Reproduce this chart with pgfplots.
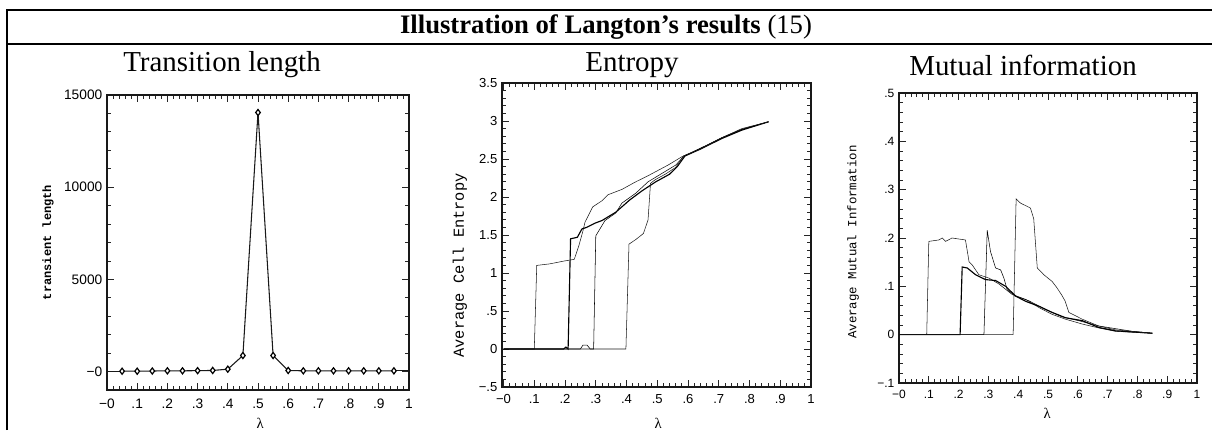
\documentclass[border=0pt]{standalone}
\usepackage{fontspec}
\setmainfont{Liberation Serif}
\newfontfamily\tickfont{Liberation Sans}
\newfontfamily\labfont{Liberation Mono}
\usepackage{pgfplots}
\pgfplotsset{compat=1.18}

\pgfplotsset{
  scanplot/.style={
    scale only axis, anchor=south west,
    tick align=inside, major tick length=5pt, minor tick length=2.8pt,
    minor x tick num=4, minor y tick num=4,
    axis line style={line width=0.8pt, black!90},
    every tick/.style={line width=0.6pt, black!85},
    xtick pos=both, ytick pos=both,
    xticklabel pos=lower, yticklabel pos=left,
    scaled ticks=false,
    xlabel={λ},
    cycle list={{black!90, line width=0.85pt, mark=none}},
    clip=false,
  }
}

\begin{document}
\begin{tikzpicture}
\useasboundingbox (0,0) rectangle (909pt,322.5pt);
% table frame
\draw[line width=1.1pt] (5.25pt,0pt) -- (5.25pt,315pt) -- (909pt,315pt);
\draw[line width=1.1pt] (5.25pt,289.5pt) -- (909pt,289.5pt);
\node[font=\fontsize{20}{22}\selectfont] at (454.5pt,302.25pt) {\textbf{Illustration of Langton’s results} (15)};
\node[font=\fontsize{21.7}{24}\selectfont] at (166.5pt,273.75pt) {Transition length};
\node[font=\fontsize{21.7}{24}\selectfont] at (474pt,273.75pt) {Entropy};
\node[font=\fontsize{21.7}{24}\selectfont] at (767.25pt,273.75pt) {Mutual information};

% ---------- Plot 1 ----------
\begin{axis}[scanplot,
  at={(80.25pt,30pt)}, width=226.5pt, height=221.25pt,
  xmin=0, xmax=1, ymin=-1000, ymax=15000,
  xtick={0,0.1,0.2,0.3,0.4,0.5,0.6,0.7,0.8,0.9,1},
  xticklabels={−0,.1,.2,.3,.4,.5,.6,.7,.8,.9,1},
  ytick={0,5000,10000,15000},
  yticklabels={−0,5000,10000,15000},
  ticklabel style={font=\tickfont\fontsize{10.3}{12}\selectfont},
  xticklabel style={yshift=-3pt},
  ylabel={transient length},
  ylabel style={font=\labfont\bfseries\fontsize{9}{10}\selectfont, at={(axis description cs:-0.195,0.5)}, anchor=center},
  xlabel style={font=\fontsize{11}{12}\selectfont, at={(axis description cs:0.507,-0.112)}, anchor=center},
]
\addplot[black!90, line width=0.8pt, mark=diamond*, mark size=2.3pt, mark options={draw=black, fill=white, line width=0.9pt}] coordinates {
(0.05,20) (0.10,20) (0.15,30) (0.20,40) (0.25,40) (0.30,50) (0.35,60) (0.40,130)
(0.45,870) (0.50,14050) (0.55,870) (0.60,60) (0.65,40) (0.70,40) (0.75,40)
(0.80,40) (0.85,40) (0.90,40) (0.95,40)
};
\addplot[black!90, line width=1pt] coordinates {(0,20) (0.05,20)};
\addplot[black!90, line width=1pt] coordinates {(0.95,40) (1,40)};
\end{axis}

% ---------- Plot 2 ----------
\begin{axis}[scanplot,
  at={(376.5pt,32.25pt)}, width=231.75pt, height=228pt,
  xmin=-0.005, xmax=1, ymin=-0.5, ymax=3.5,
  xtick={0,0.1,0.2,0.3,0.4,0.5,0.6,0.7,0.8,0.9,1},
  xticklabels={−0,.1,.2,.3,.4,.5,.6,.7,.8,.9,1},
  ytick={-0.5,0,0.5,1,1.5,2,2.5,3,3.5},
  yticklabels={−.5,0,.5,1,1.5,2,2.5,3,3.5},
  ticklabel style={font=\tickfont\fontsize{9.8}{11}\selectfont},
  xticklabel style={yshift=-2pt},
  ylabel={Average Cell Entropy},
  ylabel style={font=\labfont\fontsize{11.5}{13}\selectfont, at={(axis description cs:-0.136,0.40)}, anchor=center},
  xlabel style={font=\fontsize{11}{12}\selectfont, at={(axis description cs:0.505,-0.118)}, anchor=center},
]
\addplot coordinates {(0,0) (0.1,0) (0.108,1.1) (0.15,1.12) (0.2,1.16) (0.23,1.18) (0.245,1.36) (0.258,1.55) (0.265,1.67) (0.29,1.87) (0.32,1.95) (0.34,2.03) (0.385,2.1) (0.43,2.2) (0.47,2.28) (0.535,2.42) (0.58,2.53) (0.64,2.64) (0.71,2.78) (0.775,2.89) (0.862,2.99)};
\addplot coordinates {(0,0) (0.195,0) (0.203,0.025) (0.21,0) (0.218,1.45) (0.24,1.47) (0.255,1.58) (0.27,1.6) (0.3,1.66) (0.32,1.69) (0.365,1.8) (0.41,1.96) (0.45,2.08) (0.495,2.2) (0.54,2.3) (0.565,2.4) (0.59,2.54) (0.64,2.63) (0.71,2.77) (0.775,2.88) (0.862,2.99)};
\addplot coordinates {(0,0) (0.25,0) (0.258,0.05) (0.272,0.05) (0.282,0) (0.293,0) (0.3,1.49) (0.33,1.69) (0.365,1.79) (0.385,1.92) (0.43,2.05) (0.47,2.2) (0.515,2.31) (0.56,2.42) (0.585,2.53) (0.64,2.64) (0.71,2.78) (0.775,2.89) (0.862,2.99)};
\addplot coordinates {(0,0) (0.398,0) (0.408,1.38) (0.43,1.44) (0.455,1.52) (0.47,1.7) (0.478,2.18) (0.494,2.23) (0.526,2.3) (0.56,2.39) (0.585,2.54) (0.64,2.63) (0.71,2.78) (0.775,2.9) (0.862,2.99)};
\end{axis}

% ---------- Plot 3 ----------
\begin{axis}[scanplot,
  at={(674.25pt,35.25pt)}, width=223.5pt, height=217.5pt,
  xmin=0, xmax=1, ymin=-0.1, ymax=0.5,
  xtick={0,0.1,0.2,0.3,0.4,0.5,0.6,0.7,0.8,0.9,1},
  xticklabels={−0,.1,.2,.3,.4,.5,.6,.7,.8,.9,1},
  ytick={-0.1,0,0.1,0.2,0.3,0.4,0.5},
  yticklabels={−.1,0,.1,.2,.3,.4,.5},
  ticklabel style={font=\tickfont\fontsize{9}{10}\selectfont},
  xticklabel style={yshift=-2pt},
  ylabel={Average Mutual Information},
  ylabel style={font=\labfont\fontsize{9.3}{11}\selectfont, at={(axis description cs:-0.154,0.486)}, anchor=center},
  xlabel style={font=\fontsize{11}{12}\selectfont, at={(axis description cs:0.497,-0.103)}, anchor=center},
]
\addplot coordinates {(0,0) (0.093,0) (0.1,0.193) (0.134,0.196) (0.145,0.2) (0.156,0.193) (0.178,0.2) (0.2,0.198) (0.223,0.196) (0.235,0.151) (0.246,0.144) (0.268,0.124) (0.302,0.117) (0.335,0.105) (0.38,0.083) (0.425,0.073) (0.47,0.056) (0.514,0.042) (0.559,0.032) (0.615,0.022) (0.67,0.014) (0.726,0.007) (0.782,0.005) (0.85,0.003)};
\addplot coordinates {(0,0) (0.205,0) (0.212,0.14) (0.229,0.138) (0.257,0.124) (0.29,0.114) (0.324,0.112) (0.358,0.1) (0.391,0.08) (0.425,0.069) (0.469,0.059) (0.514,0.046) (0.559,0.035) (0.615,0.029) (0.67,0.015) (0.726,0.008) (0.85,0.003)};
\addplot coordinates {(0,0) (0.285,0) (0.296,0.216) (0.307,0.172) (0.324,0.138) (0.341,0.134) (0.352,0.117) (0.363,0.093) (0.391,0.08) (0.436,0.07) (0.492,0.052) (0.547,0.037) (0.603,0.029) (0.67,0.018) (0.782,0.007) (0.85,0.003)};
\addplot coordinates {(0,0) (0.383,0) (0.393,0.281) (0.408,0.272) (0.425,0.267) (0.441,0.262) (0.452,0.24) (0.464,0.138) (0.486,0.124) (0.514,0.11) (0.53,0.097) (0.545,0.083) (0.557,0.07) (0.57,0.046) (0.615,0.032) (0.67,0.018) (0.726,0.01) (0.85,0.003)};
\end{axis}
\end{tikzpicture}
\end{document}
